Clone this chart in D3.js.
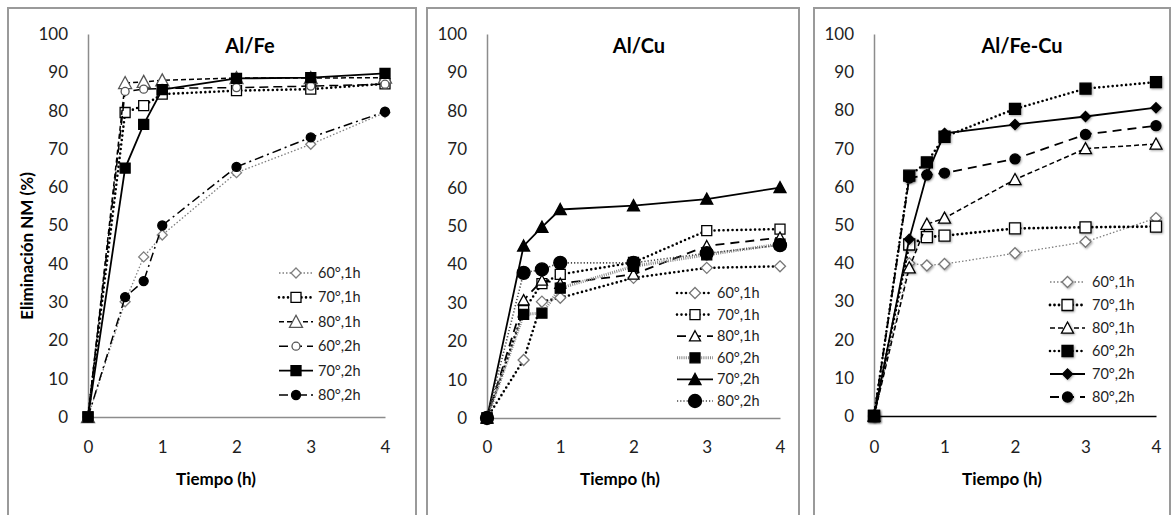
<!DOCTYPE html>
<html>
<head>
<meta charset="utf-8">
<script src="https://cdn.jsdelivr.net/npm/d3@7"></script>
<style>
  body { margin: 0; background: #fff; }
  svg { display: block; font-family: Lato, "Open Sans", sans-serif; }
</style>
</head>
<body>
<svg id="chart" width="1172" height="515"></svg>
<script>
// Reaction time (h) and series labels shared by the three catalysts
const times = [0, 0.5, 0.75, 1, 2, 3, 4];
const seriesNames = ["60°,1h", "70°,1h", "80°,1h", "60°,2h", "70°,2h", "80°,2h"];
const xTickValues = [0, 1, 2, 3, 4];
const yTickValues = [0, 10, 20, 30, 40, 50, 60, 70, 80, 90, 100];
const panelTitles = ["Al/Fe", "Al/Cu", "Al/Fe-Cu"];
const xAxisTitle = "Tiempo (h)";
const yAxisTitle = "Eliminación NM (%)";

// NM removal (%) per series, in the order of seriesNames
const alFeValues = [
  [0, 30.1, 41.8, 47.5, 63.8, 71.2, 79.5],
  [0, 79.5, 81.3, 84.3, 85.2, 85.6, 87.0],
  [0, 87.2, 87.5, 87.9, 88.5, 88.5, 88.6],
  [0, 85.0, 85.6, 85.8, 86.0, 86.4, 86.9],
  [0, 65.0, 76.4, 85.5, 88.4, 88.6, 89.7],
  [0, 31.3, 35.5, 50.0, 65.3, 73.0, 79.7]
];
const alCuValues = [
  [0, 15.1, 30.3, 31.3, 36.5, 39.1, 39.5],
  [0, 28.0, 35.0, 37.4, 40.5, 48.8, 49.2],
  [0, 30.7, 35.8, 35.0, 37.4, 44.8, 47.0],
  [0, 27.0, 27.3, 33.8, 39.5, 42.5, 45.3],
  [0, 44.8, 49.7, 54.3, 55.3, 57.0, 60.0],
  [0, 37.8, 38.7, 40.4, 40.4, 42.9, 45.0]
];
const alFeCuValues = [
  [0, 40.0, 39.4, 39.8, 42.6, 45.6, 51.8],
  [0, 44.9, 46.8, 47.2, 49.1, 49.4, 49.6],
  [0, 38.8, 50.2, 51.8, 61.9, 70.0, 71.2],
  [0, 62.9, 66.4, 73.1, 80.4, 85.7, 87.4],
  [0, 46.3, 63.2, 74.0, 76.3, 78.4, 80.7],
  [0, 62.3, 63.1, 63.6, 67.3, 73.7, 76.0]
];

// Line and marker styles for each panel
const styleAlFe = [
  { dash: "1.5,2", color: "#7f7f7f", width: 1.3, cap: "butt", marker: "diamond", size: 10, fill: "#fff", mstroke: "#7f7f7f" },
  { dash: "0,4.5", color: "#000", width: 2.6, cap: "round", marker: "square", size: 10, fill: "#fff", mstroke: "#000" },
  { dash: "5,3", color: "#000", width: 1.5, cap: "butt", marker: "triangle", size: 13, fill: "#fff", mstroke: "#555" },
  { dash: "9,5", color: "#000", width: 1.5, cap: "butt", marker: "circle", size: 8, fill: "#fff", mstroke: "#555" },
  { dash: null, color: "#000", width: 1.8, cap: "butt", marker: "square", size: 10, fill: "#000", mstroke: "#000" },
  { dash: "9,4,2,4", color: "#000", width: 1.5, cap: "butt", marker: "circle", size: 9, fill: "#000", mstroke: "#000" }
];
const styleAlCu = [
  { dash: "0,4.5", color: "#000", width: 2.6, cap: "round", marker: "diamond", size: 11, fill: "#fff", mstroke: "#777" },
  { dash: "0,4.5", color: "#000", width: 2.6, cap: "round", marker: "square", size: 10, fill: "#fff", mstroke: "#000" },
  { dash: "9,6", color: "#000", width: 1.8, cap: "butt", marker: "triangle", size: 11, fill: "#fff", mstroke: "#000" },
  { dash: "1,1.2", color: "#888", width: 3, cap: "butt", marker: "square", size: 10, fill: "#000", mstroke: "#000" },
  { dash: null, color: "#000", width: 1.8, cap: "butt", marker: "triangle", size: 12, fill: "#000", mstroke: "#000" },
  { dash: "1.2,2", color: "#444", width: 1.6, cap: "butt", marker: "circle", size: 13, fill: "#000", mstroke: "#000" }
];
const styleAlFeCu = [
  { dash: "1.5,2", color: "#7f7f7f", width: 1.3, cap: "butt", marker: "diamond", size: 11, fill: "#fff", mstroke: "#777" },
  { dash: "0,4.5", color: "#000", width: 2.8, cap: "round", marker: "square", size: 11, fill: "#fff", mstroke: "#000" },
  { dash: "5,3", color: "#000", width: 1.5, cap: "butt", marker: "triangle", size: 12, fill: "#fff", mstroke: "#000" },
  { dash: "0,4.5", color: "#000", width: 2.6, cap: "round", marker: "square", size: 11, fill: "#000", mstroke: "#000" },
  { dash: null, color: "#000", width: 1.8, cap: "butt", marker: "diamond", size: 10, fill: "#000", mstroke: "#000" },
  { dash: "9,6", color: "#000", width: 1.8, cap: "butt", marker: "circle", size: 10, fill: "#000", mstroke: "#000" }
];

// Panel frames and plot areas
const panels = [
  { title: panelTitles[0], values: alFeValues, styles: styleAlFe,
    frame: [8, 8, 416], x0: 88, x1: 385, y0: 417, y1: 34, xAxisColor: "#8c8c8c",
    titleX: 250, xTitleX: 216, showYTitle: true, shadow: false,
    legend: { x: 279, y: 273, dy: 24.4, len: 34, textX: 318 } },
  { title: panelTitles[1], values: alCuValues, styles: styleAlCu,
    frame: [427, 8, 799], x0: 487, x1: 780, y0: 418, y1: 34, xAxisColor: "#8c8c8c",
    titleX: 639, xTitleX: 620, showYTitle: false, shadow: false,
    legend: { x: 677, y: 293, dy: 21.6, len: 36, textX: 717 } },
  { title: panelTitles[2], values: alFeCuValues, styles: styleAlFeCu,
    frame: [814, 8, 1170], x0: 874, x1: 1156, y0: 416, y1: 34, xAxisColor: "#000",
    titleX: 1022, xTitleX: 1002, showYTitle: false, shadow: true,
    legend: { x: 1050, y: 282, dy: 23, len: 35, textX: 1092 } }
];

function markerPath(type, size) {
  const h = size / 2;
  switch (type) {
    case "square": return `M${-h},${-h}h${size}v${size}h${-size}Z`;
    case "diamond": return `M0,${-h}L${h},0L0,${h}L${-h},0Z`;
    case "triangle": return `M0,${-h}L${h},${h * 0.85}L${-h},${h * 0.85}Z`;
    default: return `M${h},0A${h},${h} 0 1,1 ${-h},0A${h},${h} 0 1,1 ${h},0Z`;
  }
}

const svg = d3.select("#chart");
const textColor = "#1e1e1e";

// soft shadow used by the markers of the third panel
svg.append("defs").append("filter").attr("id", "mshadow")
  .attr("x", "-50%").attr("y", "-50%").attr("width", "200%").attr("height", "200%")
  .append("feDropShadow").attr("dx", 1).attr("dy", 1).attr("stdDeviation", 0.9)
  .attr("flood-color", "#000").attr("flood-opacity", 0.35);

panels.forEach(p => {
  const g = svg.append("g");
  const x = d3.scaleLinear().domain([0, 4]).range([p.x0, p.x1]);
  const y = d3.scaleLinear().domain([0, 100]).range([p.y0, p.y1]);

  // frame (open at the bottom edge)
  g.append("path")
    .attr("d", `M${p.frame[0]},520V${p.frame[1]}H${p.frame[2]}V520`)
    .attr("fill", "none").attr("stroke", "#9a9a9a").attr("stroke-width", 2);

  // y axis
  const yAxis = g.append("g").attr("transform", `translate(${p.x0},0)`)
    .call(d3.axisLeft(y).tickValues(yTickValues).tickSize(0).tickPadding(20));
  yAxis.select(".domain").attr("stroke", "#8c8c8c").attr("stroke-width", 1.5);
  yAxis.selectAll("text").attr("font-size", 17).attr("fill", textColor)
    .attr("font-family", "Lato, sans-serif");

  // x axis
  const xAxis = g.append("g").attr("transform", `translate(0,${p.y0})`)
    .call(d3.axisBottom(x).tickValues(xTickValues).tickSize(0).tickFormat(d3.format("d")));
  xAxis.select(".domain").attr("stroke", p.xAxisColor).attr("stroke-width", 1.5);
  xAxis.selectAll("text").attr("font-size", 17).attr("fill", textColor)
    .attr("font-family", "Lato, sans-serif")
    .attr("y", 447 - p.y0).attr("dy", "0.35em");

  // titles
  g.append("text").attr("x", p.titleX).attr("y", 53).attr("text-anchor", "middle")
    .attr("font-size", 20).attr("font-weight", "bold").attr("fill", "#000").text(p.title);
  g.append("text").attr("x", p.xTitleX).attr("y", 485).attr("text-anchor", "middle")
    .attr("font-size", 17).attr("font-weight", "bold").attr("fill", "#000").text(xAxisTitle);
  if (p.showYTitle) {
    g.append("text").attr("transform", "translate(33,246) rotate(-90)")
      .attr("text-anchor", "middle").attr("font-size", 17).attr("font-weight", "bold")
      .attr("fill", "#000").text(yAxisTitle);
  }

  // series: line first, then its markers
  const line = d3.line().x((d, i) => x(times[i])).y(d => y(d));
  p.values.forEach((vals, si) => {
    const s = p.styles[si];
    const sg = g.append("g");
    sg.append("path").datum(vals).attr("d", line)
      .attr("fill", "none").attr("stroke", s.color).attr("stroke-width", s.width)
      .attr("stroke-dasharray", s.dash).attr("stroke-linecap", s.cap);
    sg.selectAll("path.m").data(vals).join("path").attr("class", "m")
      .attr("transform", (d, i) => `translate(${x(times[i])},${y(d)})`)
      .attr("d", markerPath(s.marker, s.size))
      .attr("fill", s.fill).attr("stroke", s.mstroke).attr("stroke-width", 1.3)
      .attr("filter", p.shadow ? "url(#mshadow)" : null);
  });

  // legend
  const L = p.legend;
  seriesNames.forEach((name, si) => {
    const s = p.styles[si];
    const ly = L.y + si * L.dy;
    const lg = g.append("g");
    lg.append("line").attr("x1", L.x).attr("x2", L.x + L.len).attr("y1", ly).attr("y2", ly)
      .attr("stroke", s.color).attr("stroke-width", s.width)
      .attr("stroke-dasharray", s.dash).attr("stroke-linecap", s.cap);
    lg.append("path").attr("transform", `translate(${L.x + L.len / 2},${ly})`)
      .attr("d", markerPath(s.marker, s.size))
      .attr("fill", s.fill).attr("stroke", s.mstroke).attr("stroke-width", 1.3)
      .attr("filter", p.shadow ? "url(#mshadow)" : null);
    lg.append("text").attr("x", L.textX).attr("y", ly).attr("dy", "0.35em")
      .attr("font-size", 14.5).attr("fill", textColor).text(name);
  });
});
</script>
</body>
</html>
